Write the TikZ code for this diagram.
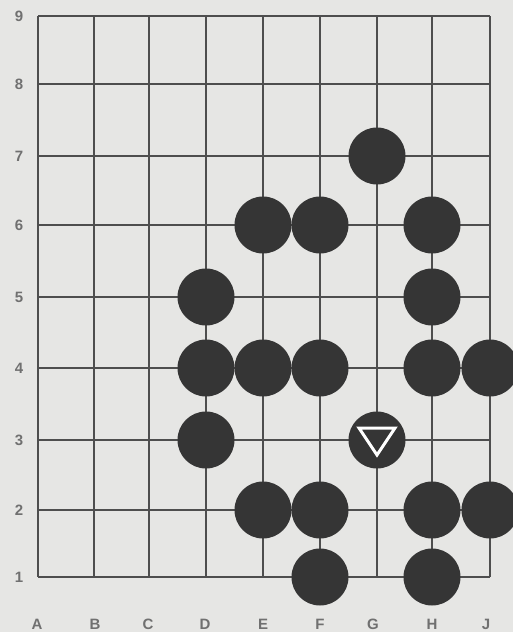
\documentclass[tikz,border=0pt]{standalone}
\usepackage{fontspec}
\setmainfont{Liberation Sans}
\begin{document}
\begin{tikzpicture}[x=1pt,y=-1pt,
  gridline/.style={draw=gridcol,line width=1.8pt},
  stone/.style={circle,fill=stonecol,minimum size=57pt,inner sep=0pt},
  lbl/.style={text=lblcol,font=\bfseries\fontsize{15}{18}\selectfont,inner sep=0pt}]
\definecolor{bgcol}{HTML}{E6E6E4}
\definecolor{gridcol}{HTML}{4E4E4E}
\definecolor{stonecol}{HTML}{353535}
\definecolor{lblcol}{HTML}{707070}
\fill[bgcol] (0,0) rectangle (513,632);
\useasboundingbox (0,0) rectangle (513,632);
% column x and row y
\def\colx{{38,94,149,206,263,320,377,432,490}}
\def\rowy{{577,510,440,368,297,225,156,84,16}}
\foreach \i in {0,...,8}{
  \pgfmathsetmacro\xx{\colx[\i]}
  \pgfmathsetmacro\yy{\rowy[\i]}
  \draw[gridline] (\xx,16) -- (\xx,577);
  \draw[gridline] (38,\yy) -- (490,\yy);
}
% coordinates for points
\foreach \c [count=\ci from 0] in {A,B,C,D,E,F,G,H,J}{
  \foreach \r [count=\ri from 0] in {1,...,9}{
    \pgfmathsetmacro\xx{\colx[\ci]}
    \pgfmathsetmacro\yy{\rowy[\ri]}
    \coordinate (p\c\r) at (\xx,\yy);
  }
}
% labels
\foreach \r in {1,...,9}{
  \node[lbl] (row\r) at (19,0 |- pA\r) {\r};
}
\foreach \c/\lx in {A/37,B/95,C/148,D/205,E/263,F/320,G/373,H/432,J/486}{
  \node[lbl] (col\c) at (\lx,624) {\c};
}
% stones
\foreach \s in {G7,E6,F6,H6,D5,H5,D4,E4,F4,H4,J4,D3,G3,E2,F2,H2,J2,F1,H1}{
  \node[stone] (s\s) at (p\s) {};
}
% triangle marker on G3 (pointing down)
\draw[white,line width=3pt,line join=miter]
  ([xshift=-18pt,yshift=12pt]sG3.center) -- ([xshift=18pt,yshift=12pt]sG3.center)
  -- ([yshift=-15pt]sG3.center) -- cycle;
\end{tikzpicture}
\end{document}
